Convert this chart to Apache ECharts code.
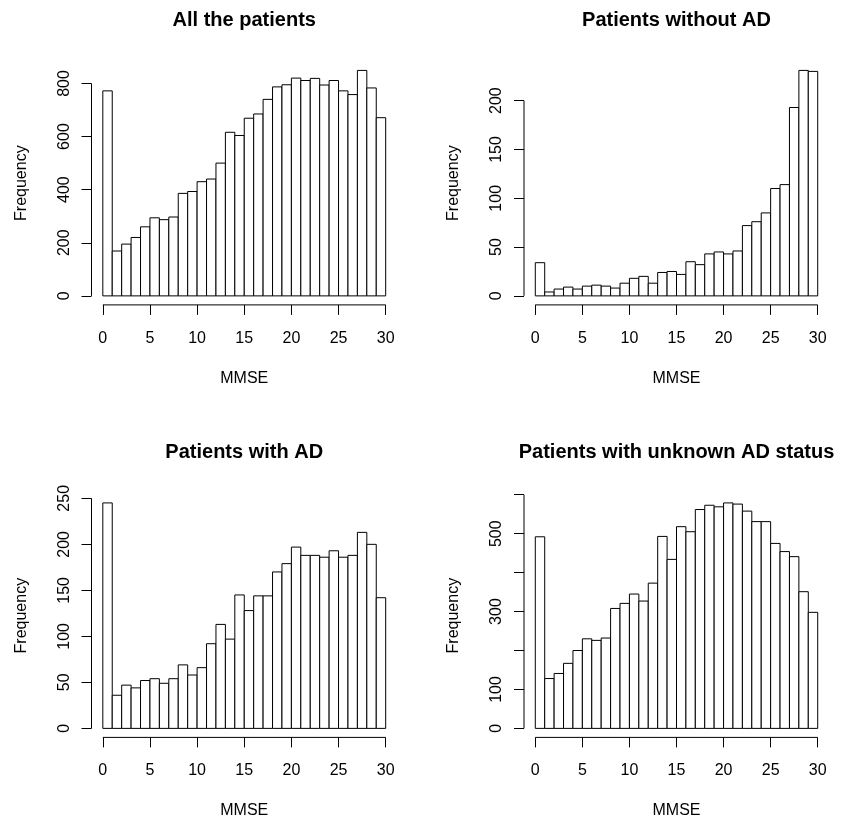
<!DOCTYPE html>
<html>
<head>
<meta charset="utf-8">
<script src="https://cdn.jsdelivr.net/npm/echarts@6/dist/echarts.min.js"></script>
<style>
  html, body { margin: 0; padding: 0; background: #fff; }
  #chart { width: 843px; height: 823px; }
</style>
</head>
<body>
<div id="chart"></div>
<script>
// ---- data (MMSE histograms, bins of width 1 from 0 to 30) ----
const breaks = [0,1,2,3,4,5,6,7,8,9,10,11,12,13,14,15,16,17,18,19,20,21,22,23,24,25,26,27,28,29,30];

const allPatients = [772,169,195,220,260,294,287,297,386,393,430,440,500,616,604,669,685,740,787,795,820,811,819,794,811,772,758,849,783,671];
const withoutAD   = [34,4,7,9,7,10,11,10,8,13,18,20,13,24,25,22,35,32,43,45,43,46,72,76,85,110,114,193,231,230];
const withAD      = [245,36,47,44,52,54,49,54,69,58,66,92,113,97,145,128,144,144,170,179,197,188,188,186,193,186,188,213,200,142];
const unknownAD   = [492,128,141,167,200,230,226,232,308,321,345,327,373,493,434,518,505,562,573,569,579,576,558,531,531,475,454,441,351,298];

const titles = ["All the patients", "Patients without AD", "Patients with AD", "Patients with unknown AD status"];
const xTicks = [0,5,10,15,20,25,30];
const yTicks = [
  [0,200,400,600,800],
  [0,50,100,150,200],
  [0,50,100,150,200,250],
  [0,100,200,300,400,500,600]
];
const yLabels = [
  [0,200,400,600,800],
  [0,50,100,150,200],
  [0,50,100,150,200,250],
  [0,100,300,500]
];
const xLabel = "MMSE";
const yLabel = "Frequency";

// ---- layout ----
const panels = [
  { left: 91.5, top: 61.4,  width: 305.5, height: 243.5 },
  { left: 524,  top: 61.4,  width: 305,   height: 243.5 },
  { left: 91.5, top: 493.9, width: 305.5, height: 243.5 },
  { left: 524,  top: 493.9, width: 305,   height: 243.5 }
];
const seriesData = [allPatients, withoutAD, withAD, unknownAD];

const FONT = '"Liberation Sans", Arial, Helvetica, sans-serif';
const grids = [], xAxes = [], yAxes = [], series = [], titleOpts = [];

panels.forEach((p, i) => {
  const vals = seriesData[i];
  const M = Math.max(...vals);
  const yMin = -0.04 * M, yMax = 1.04 * M;
  const span = breaks[breaks.length-1] - breaks[0];
  const xMin = breaks[0] - 0.04 * span;
  const xMax = breaks[breaks.length-1] + 0.04 * span;

  grids.push({ left: p.left, top: p.top, width: p.width, height: p.height, containLabel: false });

  titleOpts.push({
    text: titles[i],
    left: p.left + p.width / 2,
    top: p.top - 51,
    textAlign: 'center',
    padding: 0,
    textStyle: { fontFamily: FONT, fontSize: 20, fontWeight: 'bold', color: '#000' }
  });

  xAxes.push({
    gridIndex: i, type: 'value', min: xMin, max: xMax, position: 'bottom',
    axisLine: { show: false, onZero: false },
    splitLine: { show: false },
    axisTick: { show: true, inside: false, customValues: xTicks, length: 10, lineStyle: { color: '#000', width: 1 } },
    axisLabel: { show: true, customValues: xTicks, margin: 25.5, color: '#000', fontFamily: FONT, fontSize: 16 },
    name: xLabel, nameLocation: 'middle', nameGap: 65.5,
    nameTextStyle: { color: '#000', fontFamily: FONT, fontSize: 16 }
  });

  yAxes.push({
    gridIndex: i, type: 'value', min: yMin, max: yMax, position: 'left',
    axisLine: { show: false, onZero: false },
    splitLine: { show: false },
    axisTick: { show: true, inside: false, customValues: yTicks[i], length: 10, lineStyle: { color: '#000', width: 1 } },
    axisLabel: { show: true, customValues: yLabels[i], rotate: 90, margin: 19, color: '#000', fontFamily: FONT, fontSize: 16 },
    name: yLabel, nameLocation: 'middle', nameGap: 62,
    nameTextStyle: { color: '#000', fontFamily: FONT, fontSize: 16 }
  });

  // histogram bars
  const data = vals.map((v, k) => [breaks[k], breaks[k+1], v]);
  series.push({
    type: 'custom', xAxisIndex: i, yAxisIndex: i, data: data,
    encode: { x: [0, 1], y: 2 },
    clip: false, silent: true,
    renderItem: function (params, api) {
      const a = api.coord([api.value(0), api.value(2)]);
      const b = api.coord([api.value(1), 0]);
      return {
        type: 'rect',
        shape: { x: a[0], y: a[1], width: b[0] - a[0], height: b[1] - a[1] },
        style: { fill: '#fff', stroke: '#000', lineWidth: 1 }
      };
    }
  });

  // axis lines spanning only the tick range (R style)
  const yt = yTicks[i];
  series.push({
    type: 'line', xAxisIndex: i, yAxisIndex: i, silent: true, clip: false,
    symbol: 'none', lineStyle: { color: '#000', width: 1 },
    data: [[xTicks[0], yMin], [xTicks[xTicks.length-1], yMin]]
  });
  series.push({
    type: 'line', xAxisIndex: i, yAxisIndex: i, silent: true, clip: false,
    symbol: 'none', lineStyle: { color: '#000', width: 1 },
    data: [[xMin, yt[0]], [xMin, yt[yt.length-1]]]
  });
});

const chart = echarts.init(document.getElementById('chart'), null, { renderer: 'canvas' });
chart.setOption({
  animation: false,
  backgroundColor: '#fff',
  title: titleOpts,
  grid: grids,
  xAxis: xAxes,
  yAxis: yAxes,
  series: series
});
</script>
</body>
</html>
